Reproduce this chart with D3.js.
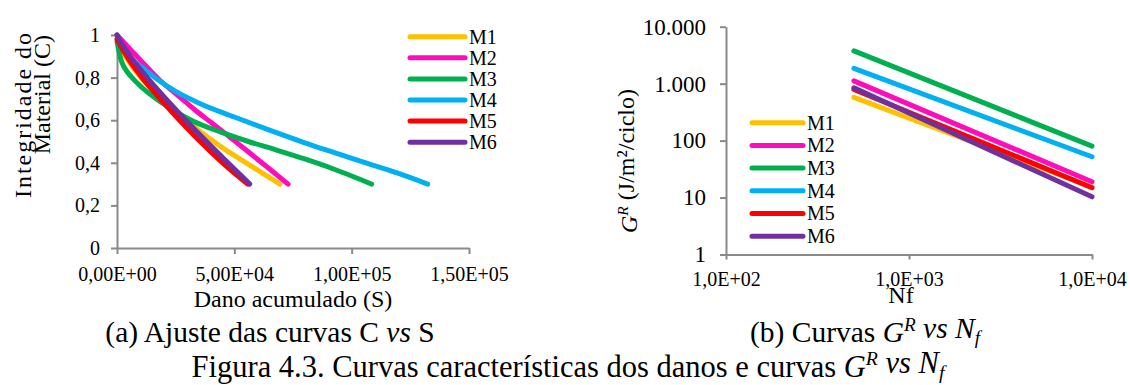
<!DOCTYPE html>
<html>
<head>
<meta charset="utf-8">
<script src="https://d3js.org/d3.v7.min.js"></script>
<title>Curvas C vs S e GR vs Nf</title>
<style>
  body { margin: 0; background: #fff; }
  svg, svg text, svg tspan { font-family: "Liberation Serif", "Times New Roman", Times, serif; }
  svg text { fill: #000; }
</style>
</head>
<body>
<script>
var names   = ["M1", "M2", "M3", "M4", "M5", "M6"],
    colours = ["#FFC000", "#FF0DBB", "#00B050", "#00B0F0", "#FF0000", "#7030A0"];

// (a) C vs S
var S_M1 = [0, 2000, 5000, 11000, 18000, 25000, 35000, 45000, 55000, 69400],
    C_M1 = [1, 0.93, 0.875, 0.79, 0.71, 0.64, 0.55, 0.47, 0.40, 0.30];
var S_M2 = [0, 5500, 11000, 18000, 25000, 33000, 40000, 47000, 55000, 64000, 72900],
    C_M2 = [1, 0.935, 0.87, 0.79, 0.725, 0.65, 0.59, 0.53, 0.46, 0.38, 0.30];
var S_M3 = [0, 1500, 3000, 6000, 11000, 18000, 25000, 32500, 44000, 56000, 68000, 80000, 92000, 100000, 108500],
    C_M3 = [0.97, 0.89, 0.85, 0.805, 0.75, 0.69, 0.64, 0.595, 0.545, 0.50, 0.46, 0.418, 0.372, 0.338, 0.30];
var S_M4 = [0, 2000, 5000, 11000, 18000, 25000, 35000, 50000, 65000, 80000, 92000, 105000, 120000, 132400],
    C_M4 = [1, 0.95, 0.90, 0.845, 0.785, 0.735, 0.68, 0.615, 0.553, 0.494, 0.45, 0.403, 0.35, 0.30];
var S_M5 = [0, 2000, 5000, 11000, 18000, 25000, 35000, 45000, 55700],
    C_M5 = [0.98, 0.94, 0.885, 0.795, 0.705, 0.62, 0.505, 0.40, 0.30];
var S_M6 = [0, 2000, 5000, 11000, 18000, 25000, 35000, 45000, 56600],
    C_M6 = [1, 0.96, 0.91, 0.825, 0.735, 0.65, 0.535, 0.425, 0.30];

var sTicks = [0, 50000, 100000, 150000],
    sTickLabels = ["0,00E+00", "5,00E+04", "1,00E+05", "1,50E+05"];
var cTicks = [0, 0.2, 0.4, 0.6, 0.8, 1],
    cTickLabels = ["0", "0,2", "0,4", "0,6", "0,8", "1"];

// (b) GR vs Nf (log-log straight lines)
var nf = [500, 10000];
var GR_M1 = [573, 15.3],
    GR_M2 = [1120, 18.9],
    GR_M3 = [3760, 80],
    GR_M4 = [1850, 52],
    GR_M5 = [791, 14.9],
    GR_M6 = [844, 10.3];

var nfTicks = [100, 1000, 10000],
    nfTickLabels = ["1,0E+02", "1,0E+03", "1,0E+04"];
var grTicks = [1, 10, 100, 1000, 10000],
    grTickLabels = ["1", "10", "100", "1.000", "10.000"];

var curvesA = [[S_M1, C_M1], [S_M2, C_M2], [S_M3, C_M3], [S_M4, C_M4], [S_M5, C_M5], [S_M6, C_M6]];
var linesB  = [GR_M1, GR_M2, GR_M3, GR_M4, GR_M5, GR_M6];

var axisCol = "#898989",
    serif = "Liberation Serif",
    lw = 5;

var svg = d3.select("body").append("svg")
  .attr("width", 1130)
  .attr("height", 385)
  .attr("font-family", serif);

function styleAxis(g, fs){
  g.attr("font-family", serif).attr("font-size", fs);
  g.select(".domain").attr("stroke", axisCol).attr("stroke-width", 2);
  g.selectAll(".tick line").attr("stroke", axisCol).attr("stroke-width", 2);
  g.selectAll(".tick text").attr("fill", "#000").style("font-family", serif);
}

// rich text: parts {t, i (italic), sup, sub, back}
function rich(sel, parts, fs){
  parts.forEach(function(p){
    var ts = sel.append("tspan").text(p.t).style("font-family", serif);
    if (p.i) ts.attr("font-style", "italic");
    if (p.sup) ts.attr("font-size", fs*0.65).attr("dy", -fs*0.38);
    if (p.sub) ts.attr("font-size", fs*0.65).attr("dy", fs*0.2);
    if (p.back) ts.attr("dy", p.back*fs);
  });
}

function label(x, y, fs, txt, anchor, rot){
  var t = svg.append("text")
    .attr("transform", "translate(" + x + "," + y + ")" + (rot ? " rotate(" + rot + ")" : ""))
    .attr("text-anchor", anchor || "middle")
    .attr("font-size", fs)
    .style("font-family", serif);
  if (txt) t.text(txt);
  return t;
}

/* ---------- (a) ---------- */
var xS = d3.scaleLinear().domain([0, 150000]).range([117, 469]),
    yC = d3.scaleLinear().domain([0, 1]).range([248, 35]);

svg.append("g").attr("transform", "translate(0,248)")
  .call(d3.axisBottom(xS).tickValues(sTicks).tickFormat(function(d,i){ return sTickLabels[i]; })
    .tickSize(6).tickSizeOuter(0).tickPadding(13))
  .call(styleAxis, 20);
svg.append("g").attr("transform", "translate(117,0)")
  .call(d3.axisLeft(yC).tickValues(cTicks).tickFormat(function(d,i){ return cTickLabels[i]; })
    .tickSize(6).tickSizeOuter(0).tickPadding(11))
  .call(styleAxis, 20);

var lineA = d3.line()
  .x(function(d){ return xS(d[0]); })
  .y(function(d){ return yC(d[1]); })
  .curve(d3.curveMonotoneX);

svg.append("g").selectAll("path")
  .data(curvesA)
  .enter().append("path")
    .attr("d", function(d){ return lineA(d3.zip(d[0], d[1])); })
    .attr("fill", "none")
    .attr("stroke", function(d,i){ return colours[i]; })
    .attr("stroke-width", lw)
    .attr("stroke-linecap", "round")
    .attr("stroke-linejoin", "round");

label(293, 306.5, 24, "Dano acumulado (S)");
label(31, 33, 24, "Integridade do", "end", -90)
  .attr("textLength", 165).attr("lengthAdjust", "spacing");
label(50, 35, 24, "Material (C)", "end", -90);

var legA = svg.append("g").selectAll("g")
  .data(names)
  .enter().append("g")
    .attr("transform", function(d,i){ return "translate(410," + (36.7 + i*21.1) + ")"; });
legA.append("line")
  .attr("x1", 0).attr("x2", 55)
  .attr("stroke", function(d,i){ return colours[i]; })
  .attr("stroke-width", lw).attr("stroke-linecap", "round");
legA.append("text").attr("x", 59).attr("dy", "0.34em")
  .attr("font-size", 20).style("font-family", serif).text(function(d){ return d; });

/* ---------- (b) ---------- */
var xN = d3.scaleLog().domain([100, 10000]).range([726, 1092]),
    yG = d3.scaleLog().domain([1, 10000]).range([254.5, 26.7]);

svg.append("g").attr("transform", "translate(0,254.5)")
  .call(d3.axisBottom(xN).tickValues(nfTicks).tickFormat(function(d,i){ return nfTickLabels[i]; })
    .tickSize(5).tickSizeOuter(0).tickPadding(12))
  .call(styleAxis, 20);
svg.append("g").attr("transform", "translate(726,0)")
  .call(d3.axisLeft(yG).tickValues(grTicks).tickFormat(function(d,i){ return grTickLabels[i]; })
    .tickSize(6).tickSizeOuter(0).tickPadding(14))
  .call(styleAxis, 23);

var lineB = d3.line()
  .x(function(d){ return xN(d[0]); })
  .y(function(d){ return yG(d[1]); });

svg.append("g").selectAll("path")
  .data(linesB)
  .enter().append("path")
    .attr("d", function(d){ return lineB(d3.zip(nf, d)); })
    .attr("fill", "none")
    .attr("stroke", function(d,i){ return colours[i]; })
    .attr("stroke-width", lw)
    .attr("stroke-linecap", "round");

label(901, 303, 24, "Nf");
rich(label(637, 161, 24, null, "middle", -90),
  [{t:"G", i:1}, {t:"R", i:1, sup:1}, {t:" (J/m²/ciclo)", back:0.247}], 24);

var legB = svg.append("g").selectAll("g")
  .data(names)
  .enter().append("g")
    .attr("transform", function(d,i){ return "translate(752," + (122.7 + i*22.7) + ")"; });
legB.append("line")
  .attr("x1", 0).attr("x2", 51)
  .attr("stroke", function(d,i){ return colours[i]; })
  .attr("stroke-width", lw).attr("stroke-linecap", "round");
legB.append("text").attr("x", 55).attr("dy", "0.34em")
  .attr("font-size", 20).style("font-family", serif).text(function(d){ return d; });

/* ---------- captions ---------- */
var fc = 29.5, ff = 30.5;
rich(label(270, 342, fc), [{t:"(a) Ajuste das curvas C "}, {t:"vs", i:1}, {t:" S"}], fc);
rich(label(865, 342, fc), [{t:"(b) Curvas "}, {t:"G", i:1}, {t:"R", i:1, sup:1}, {t:" ", back:0.247},
               {t:"vs", i:1}, {t:" "}, {t:"N", i:1}, {t:"f", i:1, sub:1}], fc);
rich(label(568, 377, ff), [{t:"Figura 4.3. Curvas características dos danos e curvas "}, {t:"G", i:1},
               {t:"R", i:1, sup:1}, {t:" ", back:0.247}, {t:"vs", i:1}, {t:" "}, {t:"N", i:1},
               {t:"f", i:1, sub:1}], ff);
</script>
</body>
</html>
